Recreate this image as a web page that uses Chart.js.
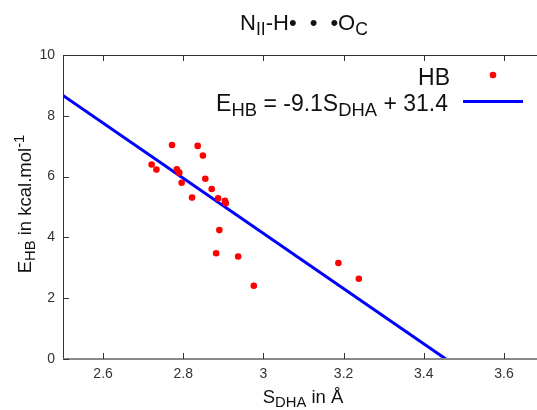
<!DOCTYPE html>
<html>
<head>
<meta charset="utf-8">
<script src="https://cdn.jsdelivr.net/npm/chart.js@4"></script>
<style>
  html, body { margin: 0; padding: 0; background: #fff; }
  #wrap { width: 537px; height: 410px; position: relative; }
</style>
</head>
<body>
<div id="wrap"><canvas id="chart" width="537" height="410"></canvas></div>
<script>
// HB points: S_DHA (Å) vs E_HB (kcal/mol)
const sDha = [2.772, 2.836, 2.849, 2.721, 2.733, 2.784, 2.790, 2.796, 2.855, 2.871,
              2.822, 2.887, 2.904, 2.906, 2.890, 2.882, 2.937, 2.976, 3.187, 3.238];
const eHb = [7.04, 7.01, 6.69, 6.40, 6.23, 6.24, 6.13, 5.80, 5.93, 5.59,
             5.31, 5.29, 5.20, 5.12, 4.24, 3.48, 3.37, 2.41, 3.16, 2.64];

// fit line E = -9.1 S + 31.4, ends
const fitX = [2.5, 3.455];
const fitY = [8.67, 0];

const xTicks = [2.6, 2.8, 3, 3.2, 3.4, 3.6];
const yTicks = [0, 2, 4, 6, 8, 10];

const FONT = "'Liberation Sans', Arial, sans-serif";

// parts: [text, kind] where kind is "sub", "sup", "gap" (text = px) or undefined
function drawRich(ctx, parts, x, y, size, align) {
  let w = 0;
  const sized = parts.map(([t, kind]) => {
    if (kind === "gap") { w += t; return { t: "", kind, s: size, pw: t }; }
    const s = kind ? size * 0.8 : size;
    ctx.font = `${s}px ${FONT}`;
    const pw = ctx.measureText(t).width;
    w += pw;
    return { t, kind, s, pw };
  });
  let cx = align === "right" ? x - w : align === "center" ? x - w / 2 : x;
  ctx.textAlign = "left";
  ctx.textBaseline = "alphabetic";
  sized.forEach(p => {
    if (p.t) {
      ctx.font = `${p.s}px ${FONT}`;
      let dy = 0;
      if (p.kind === "sub") dy = size * 0.22;
      if (p.kind === "sup") dy = -size * 0.4;
      ctx.fillText(p.t, cx, y + dy);
    }
    cx += p.pw;
  });
}

const decor = {
  id: "decor",
  afterDraw(chart) {
    const { ctx, chartArea: a, scales, width } = chart;
    ctx.save();
    // frame: top and bottom run to the edge of the picture
    ctx.strokeStyle = "#333";
    ctx.lineWidth = 1;
    ctx.beginPath();
    ctx.moveTo(a.left, a.top + 0.5);
    ctx.lineTo(width, a.top + 0.5);
    ctx.stroke();
    ctx.strokeStyle = "#888";
    ctx.lineWidth = 2;
    ctx.beginPath();
    ctx.moveTo(a.left, a.bottom);
    ctx.lineTo(width, a.bottom);
    ctx.stroke();
    // inward ticks
    ctx.strokeStyle = "#333";
    ctx.lineWidth = 1;
    ctx.beginPath();
    xTicks.forEach(v => {
      const px = Math.round(scales.x.getPixelForValue(v)) + 0.5;
      ctx.moveTo(px, a.bottom); ctx.lineTo(px, a.bottom - 6);
      ctx.moveTo(px, a.top); ctx.lineTo(px, a.top + 6);
    });
    yTicks.forEach(v => {
      const py = Math.round(scales.y.getPixelForValue(v)) + 0.5;
      ctx.moveTo(a.left, py); ctx.lineTo(a.left + 6, py);
    });
    ctx.stroke();

    ctx.fillStyle = "#111";
    // title
    drawRich(ctx, [["N"], ["II", "sub"], ["-H\u2022"], [13, "gap"], ["\u2022"], [13, "gap"], ["\u2022O"], ["C", "sub"]],
             304, 30, 22, "center");
    // x axis title
    drawRich(ctx, [["S"], ["DHA", "sub"], [" in \u00c5"]], 303, 403, 18.5, "center");
    // y axis title
    ctx.save();
    ctx.translate(31, 204);
    ctx.rotate(-Math.PI / 2);
    drawRich(ctx, [["E"], ["HB", "sub"], [" in kcal.mol"], ["-1", "sup"]], 0, 0, 18.5, "center");
    ctx.restore();

    // legend
    drawRich(ctx, [["HB"]], 450, 85, 23, "right");
    ctx.fillStyle = "#ff0000";
    ctx.beginPath();
    ctx.arc(493, 75, 3.3, 0, Math.PI * 2);
    ctx.fill();
    ctx.fillStyle = "#111";
    drawRich(ctx, [["E"], ["HB", "sub"], [" = -9.1S"], ["DHA", "sub"], [" + 31.4"]], 448, 111, 23, "right");
    ctx.strokeStyle = "#0000ff";
    ctx.lineWidth = 3;
    ctx.beginPath();
    ctx.moveTo(463, 101.5);
    ctx.lineTo(523, 101.5);
    ctx.stroke();
    ctx.restore();
  }
};

new Chart(document.getElementById("chart"), {
  type: "scatter",
  data: {
    datasets: [
      {
        label: "HB",
        data: sDha.map((x, i) => ({ x, y: eHb[i] })),
        backgroundColor: "#ff0000",
        borderWidth: 0,
        pointRadius: 3.3
      },
      {
        label: "fit",
        type: "line",
        data: fitX.map((x, i) => ({ x, y: fitY[i] })),
        borderColor: "#0000ff",
        borderWidth: 3,
        pointRadius: 0,
        fill: false
      }
    ]
  },
  options: {
    responsive: false,
    animation: false,
    devicePixelRatio: 1,
    layout: { padding: { top: 55, right: 0, left: 0, bottom: 0 } },
    plugins: { legend: { display: false }, tooltip: { enabled: false } },
    scales: {
      x: {
        type: "linear",
        // chart area ends 5px short of the edge; 400 px per unit like the reference
        min: 2.5, max: 3.6725,
        grid: { display: false, drawTicks: false },
        border: { display: false },
        afterBuildTicks: s => { s.ticks = xTicks.map(v => ({ value: v })); },
        afterFit: s => { s.height = 51; s.paddingLeft = 0; s.paddingRight = 0; },
        ticks: { padding: 7, color: "#333", font: { family: FONT, size: 14 }, maxRotation: 0,
                 callback: v => `${+Number(v).toFixed(1)}` }
      },
      y: {
        min: 0, max: 10,
        grid: { display: false, drawTicks: false },
        border: { display: true, color: "#333", width: 1 },
        afterBuildTicks: s => { s.ticks = yTicks.map(v => ({ value: v })); },
        afterFit: s => { s.width = 63; s.paddingTop = 0; s.paddingBottom = 0; },
        ticks: { padding: 8, color: "#333", font: { family: FONT, size: 14 } }
      }
    }
  },
  plugins: [decor]
});
</script>
</body>
</html>
